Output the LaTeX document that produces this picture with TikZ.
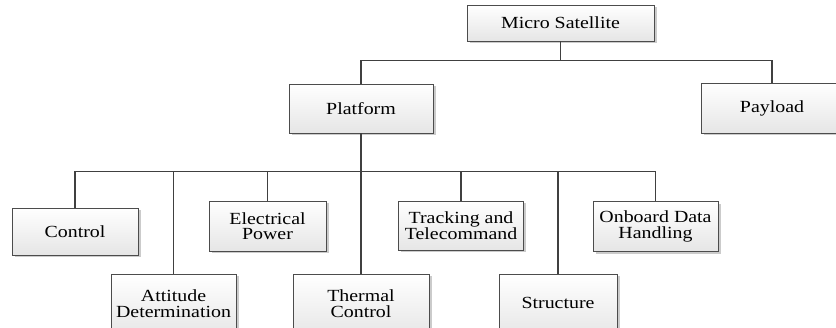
\documentclass[tikz,border=0pt]{standalone}
\usepackage{fontspec}
\setmainfont{Liberation Serif}[FakeStretch=1.17]
\usetikzlibrary{shadows}
\tikzset{
  box/.style={draw=black!70, line width=0.8pt, top color=white, bottom color=black!10,
    align=center, inner sep=2pt,
    drop shadow={shadow xshift=2.5pt, shadow yshift=-2.5pt, fill=black!25, opacity=0.8},
    font=\fontsize{17}{15.5}\selectfont},
  link/.style={draw=black!75, line width=1.2pt},
}
\newcommand{\liftup}[2]{\raisebox{#1}{\begin{tabular}{@{}c@{}}#2\end{tabular}}}
\begin{document}
\begin{tikzpicture}[x=1pt,y=-1pt]
\useasboundingbox (0,0) rectangle (836,328);
\clip (0,0) rectangle (836,328);
\fill[white] (0,0) rectangle (836,328);
\node[box, minimum width=187pt, minimum height=36pt] (ms) at (560.5,23) {Micro Satellite};
\node[box, minimum width=144pt, minimum height=49pt] (pf) at (361,108.5) {Platform};
\node[box, minimum width=142pt, minimum height=50pt] (pl) at (772,108) {Payload};
\node[box, minimum width=126pt, minimum height=47pt] (ct) at (75,231.5) {Control};
\node[box, minimum width=117pt, minimum height=50pt] (ep) at (267.5,226) {Electrical\\Power};
\node[box, minimum width=125pt, minimum height=49pt] (tt) at (461,225.5) {Tracking and\\Telecommand};
\node[box, minimum width=125pt, minimum height=50pt] (od) at (655.5,226.5) {Onboard Data\\Handling};
\node[box, minimum width=125pt, minimum height=64pt] (ad) at (173.5,306) {\liftup{8pt}{Attitude\\Determination}};
\node[box, minimum width=136pt, minimum height=64pt] (tc) at (361,306) {\liftup{8pt}{Thermal\\Control}};
\node[box, minimum width=118pt, minimum height=64pt] (st) at (558,306) {\liftup{5pt}{Structure}};
\draw[link] (ms.south) -- ++(0,19) coordinate (b1);
\draw[link] (pf.north) |- (b1) -| (pl.north);
\draw[link] (pf.south) -- ++(0,38) coordinate (b2);
\draw[link] (ct.north) |- (b2) -| (od.north);
\draw[link] (ad.north) -- (ad.north |- b2);
\draw[link] (ep.north) -- (ep.north |- b2);
\draw[link] (tc.north) -- (tc.north |- b2);
\draw[link] (tt.north) -- (tt.north |- b2);
\draw[link] (st.north) -- (st.north |- b2);
\end{tikzpicture}
\end{document}
